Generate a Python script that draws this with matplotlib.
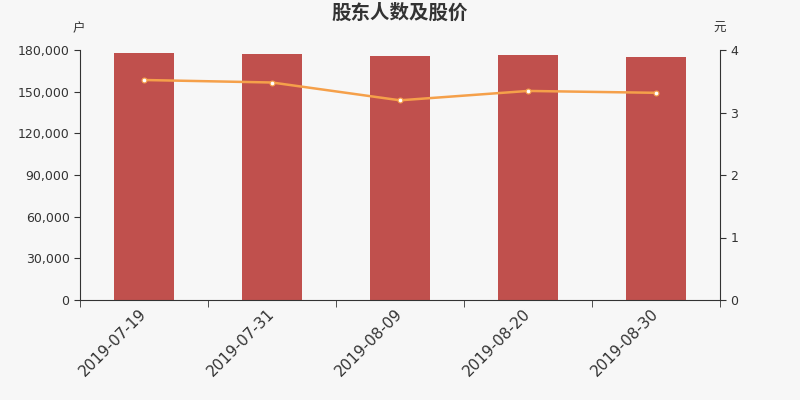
import matplotlib
matplotlib.use("Agg")
import matplotlib.pyplot as plt
import matplotlib.transforms as mtransforms
from matplotlib.ticker import FuncFormatter

plt.rcParams["font.family"] = ["DejaVu Sans", "Noto Sans CJK SC"]

# Data
dates = ["2019-07-19", "2019-07-31", "2019-08-09", "2019-08-20", "2019-08-30"]
holders = [177800, 177100, 175900, 176400, 175000]
price = [3.52, 3.48, 3.195, 3.345, 3.315]

BG = "#f7f7f7"
BAR = "#c0504d"
LINE = "#f5a04a"
TXT = "#333333"
CJK = ["Noto Sans CJK SC", "DejaVu Sans"]

fig = plt.figure(figsize=(8, 4), dpi=100, facecolor=BG)
ax = fig.add_axes([0.1, 0.25, 0.8, 0.625], facecolor=BG)
x = list(range(len(dates)))
ax.bar(x, holders, width=0.47, color=BAR, zorder=2)
ax.set_xlim(-0.5, len(dates) - 0.5)
ax.set_ylim(0, 180000)
ax.set_yticks(range(0, 180001, 30000))
ax.yaxis.set_major_formatter(FuncFormatter(lambda v, p: f"{int(v):,}"))
ax.set_xticks(x)
ax.set_xticklabels(dates, rotation=45, ha="right", rotation_mode="anchor", fontsize=11, color=TXT)
ax.set_xticks([i - 0.5 for i in range(len(dates) + 1)], minor=True)
ax.tick_params(axis="x", which="major", length=0, pad=1)
ax.tick_params(axis="x", which="minor", length=5, color=TXT)
ax.tick_params(axis="y", labelsize=9, colors=TXT, length=4)
# nudge rotated date labels a little left / down
shift = mtransforms.ScaledTranslation(-0.05, -0.05, fig.dpi_scale_trans)
for lbl in ax.get_xticklabels():
    lbl.set_transform(lbl.get_transform() + shift)
for s in ["top", "right"]:
    ax.spines[s].set_visible(False)
for s in ["left", "bottom"]:
    ax.spines[s].set_color(TXT)

ax2 = ax.twinx()
ax2.plot(x, price, color=LINE, linewidth=1.8, marker="o", markersize=3.5,
         markerfacecolor="white", markeredgecolor=LINE, markeredgewidth=0.8, zorder=3)
ax2.set_ylim(0, 4)
ax2.set_yticks([0, 1, 2, 3, 4])
ax2.tick_params(axis="y", labelsize=9, colors=TXT, length=4)
for s in ["top", "left", "bottom"]:
    ax2.spines[s].set_visible(False)
ax2.spines["right"].set_color(TXT)

fig.text(0.5, 0.967, "股东人数及股价", ha="center", va="center", fontsize=14,
         fontweight="bold", color=TXT, family=CJK)
fig.text(0.098, 0.928, "户", ha="center", va="center", fontsize=9, color=TXT, family=CJK)
fig.text(0.899, 0.928, "元", ha="center", va="center", fontsize=9, color=TXT, family=CJK)

fig.savefig("out.png", dpi=100, facecolor=BG)
